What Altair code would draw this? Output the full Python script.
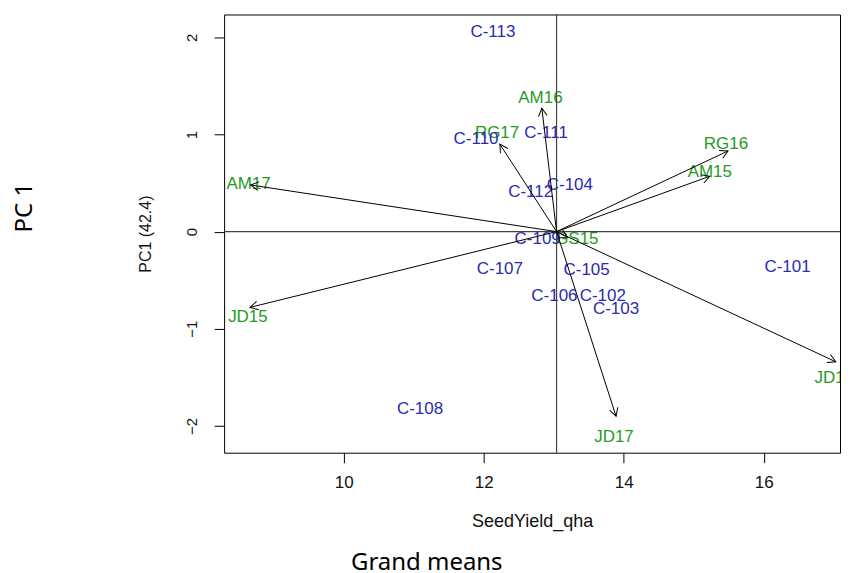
import math
import altair as alt
import pandas as pd

# ---------------- data ----------------
GENOTYPES = ["C-101", "C-102", "C-103", "C-104", "C-105", "C-106", "C-107",
             "C-108", "C-109", "C-110", "C-111", "C-112", "C-113"]
GEN_X = [16.34, 13.70, 13.89, 13.23, 13.47, 13.01, 12.23,
         11.09, 12.77, 11.89, 12.89, 12.67, 12.13]
GEN_Y = [-0.36, -0.66, -0.80, 0.48, -0.40, -0.66, -0.39,
         -1.83, -0.08, 0.95, 1.02, 0.41, 2.05]

ENVS = ["AM15", "AM16", "AM17", "RG16", "RG17", "JD15", "JD16", "JD17", "GS15"]
ENV_LABEL_X = [15.23, 12.81, 8.64, 15.46, 12.19, 8.63, 17.01, 13.86, 13.33]
ENV_LABEL_Y = [0.61, 1.38, 0.49, 0.90, 1.01, -0.88, -1.51, -2.11, -0.08]
ENV_TIP_X = [15.23, 12.83, 8.67, 15.49, 12.23, 8.66, 17.03, 13.89, 13.20]
ENV_TIP_Y = [0.57, 1.27, 0.48, 0.83, 0.90, -0.78, -1.34, -1.90, -0.06]

GRAND_X = 13.04   # grand mean of SeedYield_qha
GRAND_Y = 0.0

X_TICKS = [10, 12, 14, 16]
Y_TICKS = [-2, -1, 0, 1, 2]
X_DOMAIN = [8.29, 17.09]
Y_DOMAIN = [-2.276, 2.235]

# ---------------- styling ----------------
W, H = 617, 439
BLUE = "#2b2bb3"
GREEN = "#259b25"
FONT = "Liberation Sans"
ARROW_PATH = "M -0.55 1 L 0 0 L 0.55 1"

px_x = W / (X_DOMAIN[1] - X_DOMAIN[0])
px_y = H / (Y_DOMAIN[1] - Y_DOMAIN[0])

gen_df = pd.DataFrame({"name": GENOTYPES, "x": GEN_X, "y": GEN_Y})
env_df = pd.DataFrame({
    "name": ENVS, "lx": ENV_LABEL_X, "ly": ENV_LABEL_Y,
    "tx": ENV_TIP_X, "ty": ENV_TIP_Y,
})
env_df["x0"] = GRAND_X
env_df["y0"] = GRAND_Y
env_df["ang"] = [
    math.degrees(math.atan2((tx - GRAND_X) * px_x, (ty - GRAND_Y) * px_y)) % 360
    for tx, ty in zip(ENV_TIP_X, ENV_TIP_Y)
]

xs = alt.Scale(domain=X_DOMAIN, nice=False, zero=False)
ys = alt.Scale(domain=Y_DOMAIN, nice=False, zero=False)

x_axis = alt.Axis(values=X_TICKS, format="d", title="SeedYield_qha", grid=False,
                  domain=False, tickSize=10, tickColor="black", labelFont=FONT,
                  labelFontSize=17, labelColor="#111", labelPadding=12,
                  titleFont=FONT, titleFontSize=18, titleFontWeight="normal",
                  titleColor="#111", titlePadding=22)
y_axis = alt.Axis(values=Y_TICKS, format="d", title="PC1 (42.4)", grid=False,
                  domain=False, tickSize=10, tickColor="black", labelFont=FONT,
                  labelFontSize=15, labelColor="#111", labelAngle=270,
                  labelAlign="center", labelBaseline="bottom", labelPadding=15,
                  titleFont=FONT, titleFontSize=16, titleFontWeight="normal",
                  titleColor="#111", titlePadding=31)

vline = alt.Chart(pd.DataFrame({"x": [GRAND_X]})).mark_rule(
    color="#444", strokeWidth=1.2).encode(x=alt.X("x:Q", scale=xs, axis=x_axis))
hline = alt.Chart(pd.DataFrame({"y": [GRAND_Y]})).mark_rule(
    color="#444", strokeWidth=1.2).encode(y=alt.Y("y:Q", scale=ys, axis=y_axis))

env_text = alt.Chart(env_df).mark_text(
    color=GREEN, font=FONT, fontSize=17, clip=True).encode(
    x=alt.X("lx:Q", scale=xs), y=alt.Y("ly:Q", scale=ys), text="name:N")
gen_text = alt.Chart(gen_df).mark_text(
    color=BLUE, font=FONT, fontSize=17, clip=True).encode(
    x=alt.X("x:Q", scale=xs), y=alt.Y("y:Q", scale=ys), text="name:N")

arrows = alt.Chart(env_df).mark_rule(color="black", strokeWidth=1).encode(
    x=alt.X("x0:Q", scale=xs), y=alt.Y("y0:Q", scale=ys),
    x2="tx:Q", y2="ty:Q")
heads = alt.Chart(env_df).mark_point(
    shape=ARROW_PATH, filled=False, size=250, color="black", strokeWidth=1,
    opacity=1).encode(
    x=alt.X("tx:Q", scale=xs), y=alt.Y("ty:Q", scale=ys),
    angle=alt.Angle("ang:Q", scale=None))

layer = alt.layer(env_text, gen_text, vline, hline, arrows, heads).properties(
    width=W, height=H,
    title=alt.TitleParams("PC 1", orient="left", anchor="middle", font="Noto Sans",
                          fontSize=24, fontWeight="normal", color="black",
                          offset=100.5, dx=26),
)

chart = alt.vconcat(layer).properties(
    title=alt.TitleParams("Grand means", orient="bottom", anchor="middle",
                          font="Noto Sans", fontSize=24, fontWeight="normal",
                          color="black", offset=20),
    padding={"left": 4.5, "top": 4, "right": 0, "bottom": 0},
).configure_view(stroke="black", strokeWidth=1)

chart.save("out.html", embed_options={"renderer": "svg", "actions": False})
